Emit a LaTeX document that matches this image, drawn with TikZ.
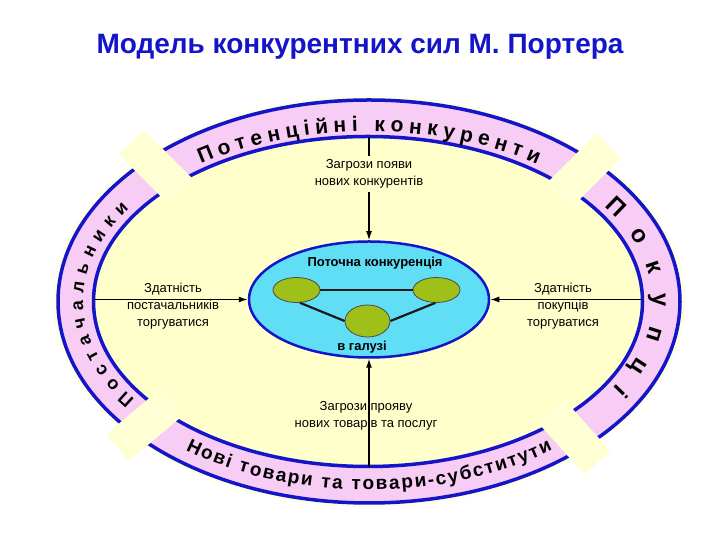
\documentclass[tikz,border=0pt]{standalone}
\usepackage{fontspec}
\setmainfont{Liberation Sans}
\usetikzlibrary{shapes.geometric,decorations.text,arrows.meta}
\definecolor{ringpink}{RGB}{247,204,245}
\definecolor{paleyel}{RGB}{255,255,204}
\definecolor{gapyel}{RGB}{255,255,212}
\definecolor{fringe}{RGB}{255,255,232}
\definecolor{ringblue}{RGB}{20,20,200}
\definecolor{titleblue}{RGB}{20,20,200}
\definecolor{cyanfill}{RGB}{95,222,245}
\definecolor{olivefill}{RGB}{158,192,24}
\newcommand\ringfontA{\bfseries\fontsize{21}{21}\selectfont}
\newcommand\ringfontB{\bfseries\fontsize{18}{18}\selectfont}
\newcommand\ringfontC{\bfseries\fontsize{19}{19}\selectfont}
\newcommand\ringfontD{\bfseries\fontsize{24}{24}\selectfont}
\tikzset{
  ringline/.style={draw=ringblue, line width=3.5pt},
  gapbox/.style={fill=gapyel},
  lbl/.style={align=center, font=\fontsize{13}{17}\selectfont, inner sep=1pt},
  conn/.style={draw=black, line width=1.3pt, -{Latex[length=9pt,width=6pt]}},
  greenell/.style={ellipse, draw=black!70, line width=0.8pt, fill=olivefill, inner sep=0pt},
  link/.style={draw=black!90, line width=2.2pt},
}
\begin{document}
\begin{tikzpicture}[x=1pt,y=1pt]
\useasboundingbox (0,0) rectangle (720,540);
\fill[white] (0,0) rectangle (720,540);
% faint fringe
\fill[fringe] (369,238.5) ellipse [x radius=316, y radius=206];
% ring and interior
\fill[ringpink] (369,238.5) ellipse [x radius=311, y radius=201.5];
\fill[paleyel] (368,238.5) ellipse [x radius=274.5, y radius=165];
\draw[ringline] (369,238.5) ellipse [x radius=311, y radius=201.5];
\draw[ringline] (368,238.5) ellipse [x radius=274.5, y radius=165];
% gaps at the diagonals
\fill[gapbox, shift={(159.5,369.5)}, rotate=-45] (-40,-17.5) rectangle (30,17.5);
\fill[gapbox, shift={(580.5,366)}, rotate=-135] (-40,-17.5) rectangle (30,17.5);
\fill[gapbox, shift={(148,118)}, rotate=40] (-40,-17.5) rectangle (30,17.5);
\fill[gapbox, shift={(570.75,107)}, rotate=132] (-40,-17.5) rectangle (30,17.5);
% ring texts
\path[decorate, decoration={text along path, text={|\ringfontA|Потенційні конкуренти}, text align={fit to path}}]
  ({369+286*cos(126)},{238.5+170*sin(126)}) arc [start angle=126, end angle=54, x radius=286, y radius=170];
\path[decorate, decoration={text along path, text={|\ringfontB|Постачальники}, text align={fit to path}}]
  ({369+286*cos(215)},{238.5+170*sin(215)}) arc [start angle=215, end angle=147, x radius=286, y radius=170];
\path[decorate, decoration={text along path, text={|\ringfontD|Покупці}, text align={fit to path}}]
  ({369+284*cos(34)},{238.5+169*sin(34)}) arc [start angle=34, end angle=-31, x radius=284, y radius=169];
\path[decorate, decoration={text along path, text={|\ringfontC|Нові товари та товари-субститути}, text align={fit to path}}]
  ({369+298*cos(232)},{238.5+188.5*sin(232)}) arc [start angle=232, end angle=308, x radius=298, y radius=188.5];
% title
\node[font=\bfseries\fontsize{28}{30}\selectfont, text=titleblue] (title) at (360,493) {Модель конкурентних сил М. Портера};
% centre
\node[ellipse, draw=ringblue, line width=2.5pt, fill=cyanfill, minimum width=240, minimum height=116, inner sep=0pt] (core) at (369,240.5) {};
\node[font=\bfseries\fontsize{13}{15}\selectfont] (coretop) at (375,277) {Поточна конкуренція};
\node[font=\bfseries\fontsize{13}{15}\selectfont] (corebot) at (362,193) {в галузі};
\node[greenell, minimum width=47, minimum height=25] (gl) at (296.5,250) {};
\node[greenell, minimum width=47, minimum height=25] (gr) at (436.5,250) {};
\node[greenell, minimum width=45, minimum height=32] (gb) at (367.5,219) {};
\draw[link] (gl.east) -- (gr.west);
\draw[link] (gl.-75) -- (gb.west);
\draw[link] (gr.-95) -- (gb.east);
% ring anchor points
\coordinate (topin) at (369,403);
\coordinate (botin) at (369,73);
\coordinate (leftin) at (93.5,240.5);
\coordinate (rightin) at (642.5,240.5);
% arrows and labels
\draw[conn] (topin) -- (core.north);
\node[lbl, fill=paleyel, inner sep=4pt] (ltop) at (369,366) {Загрози появи\\нових конкурентів};
\node[lbl] (lbot) at (366,124) {Загрози прояву\\нових товарів та послуг};
\draw[conn] (botin) -- (core.south);
\node[lbl] (lleft) at (173,234) {Здатність\\постачальників\\торгуватися};
\node[lbl] (lright) at (563,234) {Здатність\\покупців\\торгуватися};
\draw[conn] (leftin) -- (core.west);
\draw[conn] (rightin) -- (core.east);
\end{tikzpicture}
\end{document}
